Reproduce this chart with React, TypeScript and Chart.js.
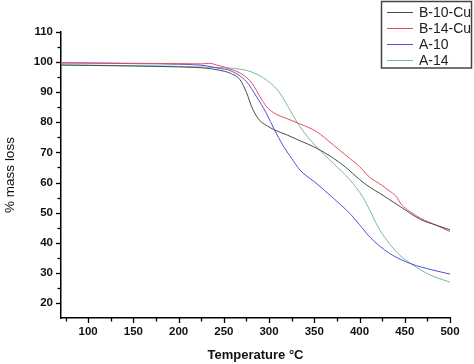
import React, { useEffect, useRef } from 'react';
import { Chart, registerables } from 'chart.js';

Chart.register(...registerables);

// ---- data ----
const seriesLabels = ['B-10-Cu', 'B-14-Cu', 'A-10', 'A-14'];
const seriesColors = ['#4a4a4a', '#e4505c', '#5050dc', '#78b8a8'];

const b10Temps = [70, 100, 150, 200, 230, 245, 257, 268, 275, 282, 290, 297, 305, 320, 334, 352, 371, 385, 400, 411, 422, 445, 467, 485, 500];
const b10Values = [99, 98.9, 98.7, 98.4, 98, 97.3, 96.3, 94.1, 89.9, 84.3, 80.5, 79, 77.6, 75.8, 73.9, 71.5, 68.1, 65, 61, 58.5, 56.5, 52, 47.8, 45.8, 44.3];

const b14Temps = [70, 100, 150, 200, 225, 233, 245, 257, 270, 281, 291, 297, 305, 320, 334, 352, 371, 385, 400, 411, 422, 435, 441, 446, 455, 467, 485, 500];
const b14Values = [99.7, 99.7, 99.6, 99.5, 99.4, 99.6, 98.8, 97.7, 96, 93, 88, 85.3, 83.2, 81.2, 79.5, 77, 72.5, 69, 65.3, 61.8, 59.6, 56.8, 55.2, 52.8, 50.5, 48.2, 45.8, 43.7];

const a10Temps = [70, 100, 150, 200, 230, 245, 257, 275, 286, 297, 306, 315, 325, 334, 352, 371, 390, 400, 411, 433, 457, 480, 500];
const a10Values = [99.8, 99.7, 99.5, 99.3, 98.8, 97.9, 97.2, 93.5, 88.6, 83, 77.5, 72.5, 68, 64.2, 59.8, 54.8, 49.5, 46, 42, 36.5, 33, 31, 29.6];

const a14Temps = [70, 100, 150, 200, 230, 257, 279, 297, 312, 323, 334, 352, 371, 389, 404, 411, 420, 430, 444, 456, 478, 500];
const a14Values = [99.1, 99, 98.8, 98.6, 98.3, 98, 96.9, 94.1, 89.7, 84.1, 78.6, 72, 66.4, 61, 55, 51, 45.5, 40.9, 36, 33.2, 29.3, 26.9];

const xMajorTicks = [100, 150, 200, 250, 300, 350, 400, 450, 500];
const yMajorTicks = [20, 30, 40, 50, 60, 70, 80, 90, 100, 110];

const FONT = "'Liberation Sans', Arial, sans-serif";

const toPoints = (t: number[], v: number[]) => t.map((x, i) => ({ x, y: v[i] }));

const decorPlugin = {
  id: 'decor',
  afterDraw(chart: any) {
    const ctx = chart.ctx as CanvasRenderingContext2D;
    const xs = chart.scales.x;
    const ys = chart.scales.y;
    const area = chart.chartArea;
    ctx.save();
    ctx.strokeStyle = '#000';
    ctx.lineWidth = 1.3;
    // x ticks (major + minor)
    for (let v = 75; v <= 500; v += 25) {
      const px = Math.round(xs.getPixelForValue(v)) + 0.5;
      const len = v % 50 === 0 ? 5 : 3.5;
      ctx.beginPath();
      ctx.moveTo(px, area.bottom);
      ctx.lineTo(px, area.bottom + len);
      ctx.stroke();
    }
    // y ticks
    for (let v = 20; v <= 110; v += 5) {
      const py = Math.round(ys.getPixelForValue(v)) + 0.5;
      const len = v % 10 === 0 ? 5 : 3.5;
      ctx.beginPath();
      ctx.moveTo(area.left, py);
      ctx.lineTo(area.left - len, py);
      ctx.stroke();
    }
    // legend box
    const bx = 381.5, by = 1.5, bw = 90, bh = 66.5;
    ctx.fillStyle = '#fff';
    ctx.fillRect(bx, by, bw, bh);
    ctx.strokeStyle = '#444';
    ctx.lineWidth = 1.5;
    ctx.strokeRect(bx, by, bw, bh);
    ctx.font = `14px ${FONT}`;
    ctx.textBaseline = 'middle';
    ctx.textAlign = 'left';
    chart.data.datasets.forEach((ds: any, i: number) => {
      const y = 12 + i * 16;
      ctx.strokeStyle = ds.borderColor;
      ctx.lineWidth = 1;
      ctx.beginPath();
      ctx.moveTo(387, y + 0.5);
      ctx.lineTo(413, y + 0.5);
      ctx.stroke();
      ctx.fillStyle = '#222';
      ctx.fillText(ds.label, 419, y + 1);
    });
    ctx.restore();
  },
};

export default function App() {
  const ref = useRef<HTMLCanvasElement | null>(null);
  useEffect(() => {
    if (!ref.current) return;
    const allTemps = [b10Temps, b14Temps, a10Temps, a14Temps];
    const allValues = [b10Values, b14Values, a10Values, a14Values];
    const chart = new Chart(ref.current, {
      type: 'line',
      data: {
        datasets: seriesLabels.map((label, i) => ({
          label,
          data: toPoints(allTemps[i], allValues[i]),
          borderColor: seriesColors[i],
          backgroundColor: seriesColors[i],
          borderWidth: 1,
          pointRadius: 0,
          fill: false,
          cubicInterpolationMode: 'monotone' as const,
        })),
      },
      options: {
        animation: false,
        responsive: false,
        layout: { padding: { top: 32, right: 24, left: 0, bottom: 0 } },
        plugins: { legend: { display: false }, tooltip: { enabled: false } },
        scales: {
          x: {
            type: 'linear',
            min: 70,
            max: 500,
            afterFit: (s: any) => { s.height = 46; },
            afterBuildTicks: (s: any) => { s.ticks = xMajorTicks.map((v) => ({ value: v })); },
            grid: { display: false, drawTicks: false },
            border: { display: true, color: '#000', width: 1.5 },
            ticks: { padding: 7, color: '#111', font: { family: FONT, size: 11.5, weight: 'bold' }, maxRotation: 0, autoSkip: false },
            title: { display: true, text: 'Temperature °C', color: '#111', font: { family: FONT, size: 13, weight: 'bold' }, padding: { bottom: 1, top: 0 } },
          },
          y: {
            type: 'linear',
            min: 15,
            max: 110,
            afterFit: (s: any) => { s.width = 61; },
            afterBuildTicks: (s: any) => { s.ticks = yMajorTicks.map((v) => ({ value: v })); },
            grid: { display: false, drawTicks: false },
            border: { display: true, color: '#000', width: 1.5 },
            ticks: { padding: 8, color: '#111', font: { family: FONT, size: 11.5, weight: 'bold' }, autoSkip: false },
            title: { display: true, text: '% mass loss', color: '#111', font: { family: FONT, size: 13.5 }, padding: { top: 2, bottom: 0 } },
          },
        },
      },
      plugins: [decorPlugin],
    } as any);
    return () => chart.destroy();
  }, []);
  return (
    <div style={{ position: 'fixed', left: 0, top: 0, width: 474, height: 364, background: '#fff' }}>
      <canvas ref={ref} width={474} height={364} style={{ display: 'block' }} />
    </div>
  );
}
